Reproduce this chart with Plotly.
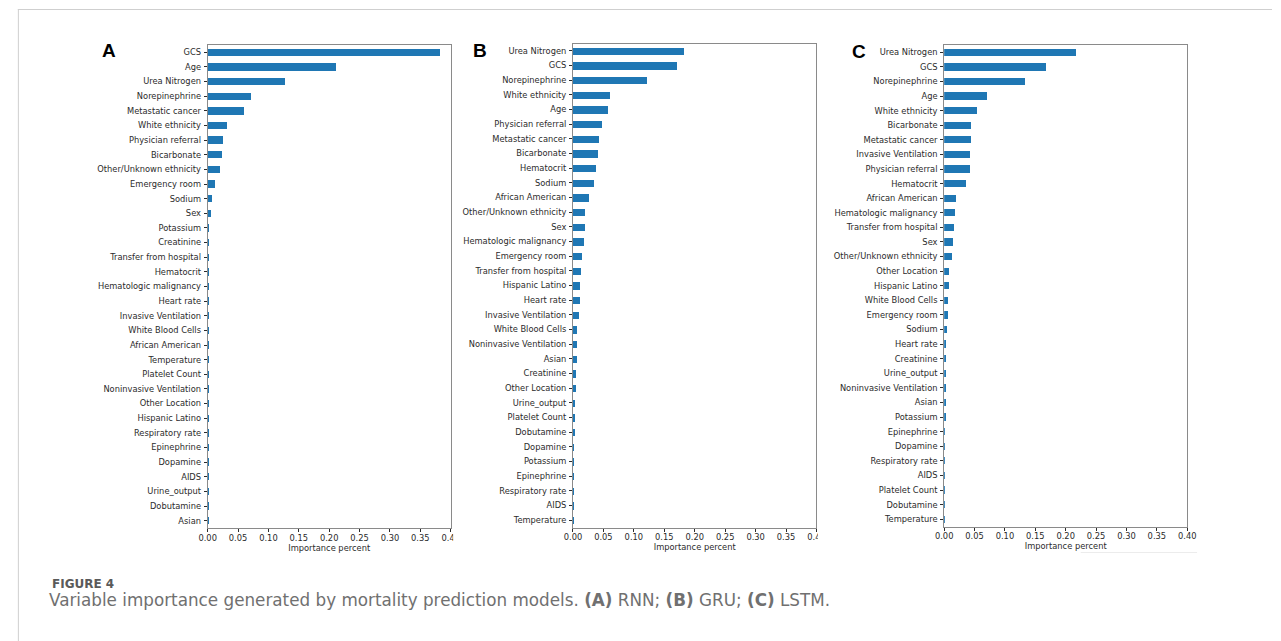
import plotly.graph_objects as go

W, H = 1281, 641

# ---- Variable importance per model (top to bottom as drawn) ----
rnn_features = [
    "GCS", "Age", "Urea Nitrogen", "Norepinephrine", "Metastatic cancer",
    "White ethnicity", "Physician referral", "Bicarbonate", "Other/Unknown ethnicity",
    "Emergency room", "Sodium", "Sex", "Potassium", "Creatinine",
    "Transfer from hospital", "Hematocrit", "Hematologic malignancy", "Heart rate",
    "Invasive Ventilation", "White Blood Cells", "African American", "Temperature",
    "Platelet Count", "Noninvasive Ventilation", "Other Location", "Hispanic Latino",
    "Respiratory rate", "Epinephrine", "Dopamine", "AIDS", "Urine_output",
    "Dobutamine", "Asian",
]
rnn_values = [
    0.382, 0.211, 0.126, 0.0715, 0.0595,
    0.031, 0.0244, 0.0227, 0.019,
    0.0108, 0.007, 0.0054, 0.0015, 0.0014,
    0.0008, 0.0007, 0.0006, 0.0005,
    0.0004, 0.0004, 0.0003, 0.0003,
    0.0002, 0.0002, 0.0002, 0.0001,
    0.0001, 0.0001, 0.0001, 0.00005, 0.00005,
    0.00003, 0.00002,
]

gru_features = [
    "Urea Nitrogen", "GCS", "Norepinephrine", "White ethnicity", "Age",
    "Physician referral", "Metastatic cancer", "Bicarbonate", "Hematocrit", "Sodium",
    "African American", "Other/Unknown ethnicity", "Sex", "Hematologic malignancy",
    "Emergency room", "Transfer from hospital", "Hispanic Latino", "Heart rate",
    "Invasive Ventilation", "White Blood Cells", "Noninvasive Ventilation", "Asian",
    "Creatinine", "Other Location", "Urine_output", "Platelet Count", "Dobutamine",
    "Dopamine", "Potassium", "Epinephrine", "Respiratory rate", "AIDS", "Temperature",
]
gru_values = [
    0.183, 0.1705, 0.122, 0.0604, 0.0572,
    0.048, 0.042, 0.041, 0.0378, 0.034,
    0.0264, 0.0205, 0.019, 0.0188,
    0.014, 0.0124, 0.0122, 0.012,
    0.0092, 0.007, 0.0069, 0.0068,
    0.0043, 0.0042, 0.0033, 0.0025, 0.0024,
    0.0016, 0.0015, 0.0014, 0.0004, 0.0003, 0.0002,
]

lstm_features = [
    "Urea Nitrogen", "GCS", "Norepinephrine", "Age", "White ethnicity",
    "Bicarbonate", "Metastatic cancer", "Invasive Ventilation", "Physician referral",
    "Hematocrit", "African American", "Hematologic malignancy", "Transfer from hospital",
    "Sex", "Other/Unknown ethnicity", "Other Location", "Hispanic Latino",
    "White Blood Cells", "Emergency room", "Sodium", "Heart rate", "Creatinine",
    "Urine_output", "Noninvasive Ventilation", "Asian", "Potassium", "Epinephrine",
    "Dopamine", "Respiratory rate", "AIDS", "Platelet Count", "Dobutamine", "Temperature",
]
lstm_values = [
    0.2168, 0.1686, 0.1335, 0.0708, 0.054,
    0.0449, 0.0448, 0.0433, 0.042,
    0.0362, 0.02, 0.0178, 0.0162,
    0.0146, 0.0135, 0.0086, 0.0085,
    0.007, 0.0068, 0.0053, 0.0038, 0.0037,
    0.003, 0.0029, 0.0028, 0.0018, 0.0006,
    0.0005, 0.0004, 0.0003, 0.0002, 0.0002, 0.0001,
]

x_ticks = [0.0, 0.05, 0.10, 0.15, 0.20, 0.25, 0.30, 0.35, 0.40]
x_tick_labels = ["0.00", "0.05", "0.10", "0.15", "0.20", "0.25", "0.30", "0.35", "0.40"]
panel_letters = ["A", "B", "C"]
axis_title = "Importance percent"
caption_head = "FIGURE 4"
caption_text = ("Variable importance generated by mortality prediction models. "
                "<b>(A)</b> RNN; <b>(B)</b> GRU; <b>(C)</b> LSTM.")

BAR = "#1f77b4"
SPINE = "#8a8a8a"
TXT = "#2b2b2b"
TICK_FONT = dict(family="DejaVu Sans", size=8.3, color=TXT)


def px_x(x):
    return x / W


def px_y(y):
    return 1 - y / H


# plot-area boxes in pixels: (left, right, top, bottom)
boxes = [
    (201.5, 448.0, 45.0, 528.0),
    (572.0, 819.0, 43.5, 527.5),
    (948.5, 1195.0, 45.0, 526.5),
]
letter_pos = [(101.5, 50.5), (478.0, 50.0), (862.0, 51.0)]

fig = go.Figure()
panels = [(rnn_features, rnn_values), (gru_features, gru_values), (lstm_features, lstm_values)]

for i, ((feats, vals), (l, r, t, b)) in enumerate(zip(panels, boxes)):
    n = i + 1
    xa = "x" if n == 1 else f"x{n}"
    ya = "y" if n == 1 else f"y{n}"
    fig.add_trace(go.Bar(
        x=vals, y=feats, orientation="h", width=0.5,
        marker=dict(color=BAR, line=dict(width=0)),
        xaxis=xa, yaxis=ya, showlegend=False, hoverinfo="x+y",
    ))
    axis_common = dict(
        showline=True, linecolor=SPINE, linewidth=1, mirror=True,
        ticks="outside", ticklen=3, tickwidth=1, tickcolor=TXT,
        showgrid=False, zeroline=False, tickfont=TICK_FONT,
    )
    fig.layout[f"xaxis{'' if n == 1 else n}"] = dict(
        domain=[px_x(l), px_x(r)], anchor=ya, range=[0, 0.40],
        tickvals=x_ticks, ticktext=x_tick_labels, ticklabelstandoff=-1,
        title=dict(text=axis_title, font=TICK_FONT, standoff=1),
        **axis_common,
    )
    fig.layout[f"yaxis{'' if n == 1 else n}"] = dict(
        domain=[px_y(b), px_y(t)], anchor=xa, type="category",
        categoryorder="array", categoryarray=feats,
        range=[len(feats) - 0.5, -0.5], ticklabelstandoff=1,
        **axis_common,
    )
    lx, ly = letter_pos[i]
    fig.add_annotation(
        x=px_x(lx), y=px_y(ly), xref="paper", yref="paper",
        text=f"<b>{panel_letters[i]}</b>", showarrow=False,
        xanchor="center", yanchor="middle",
        font=dict(family="Liberation Sans", size=19, color="#000000"),
    )

# neighbouring images clip the rightmost tick labels of A and B
for x0, x1 in [(450.5, 460.0), (820.5, 830.0)]:
    fig.add_shape(type="rect", xref="paper", yref="paper",
                  x0=px_x(x0), x1=px_x(x1), y0=px_y(545), y1=px_y(529),
                  fillcolor="white", line=dict(width=0), layer="above")

# page frame lines
fig.add_shape(type="line", xref="paper", yref="paper",
              x0=px_x(9), x1=1, y0=px_y(9.5), y1=px_y(9.5),
              line=dict(color="#cfcfcf", width=1))
fig.add_shape(type="line", xref="paper", yref="paper",
              x0=px_x(9.5), x1=px_x(9.5), y0=px_y(9), y1=0,
              line=dict(color="#cfcfcf", width=1))
fig.add_shape(type="line", xref="paper", yref="paper",
              x0=px_x(1087), x1=px_x(1205), y0=px_y(552.5), y1=px_y(552.5),
              line=dict(color="#ececec", width=1))

# caption
fig.add_annotation(
    x=px_x(42), y=px_y(584), xref="paper", yref="paper", showarrow=False,
    xanchor="left", yanchor="middle", text=f"<b>{caption_head}</b>",
    font=dict(family="DejaVu Sans", size=12, color="#5a5a5a"),
)
fig.add_annotation(
    x=px_x(39), y=px_y(600), xref="paper", yref="paper", showarrow=False,
    xanchor="left", yanchor="middle", text=caption_text,
    font=dict(family="DejaVu Sans", size=16.8, color="#707070"),
)

fig.update_layout(
    width=W, height=H, margin=dict(l=0, r=0, t=0, b=0),
    paper_bgcolor="white", plot_bgcolor="white",
    bargap=0, font=dict(family="DejaVu Sans"),
)

# keep the figure flush with the page edges
fig.write_html(
    "out.html",
    post_script="document.body.style.margin='0';document.body.style.overflow='hidden';",
)
